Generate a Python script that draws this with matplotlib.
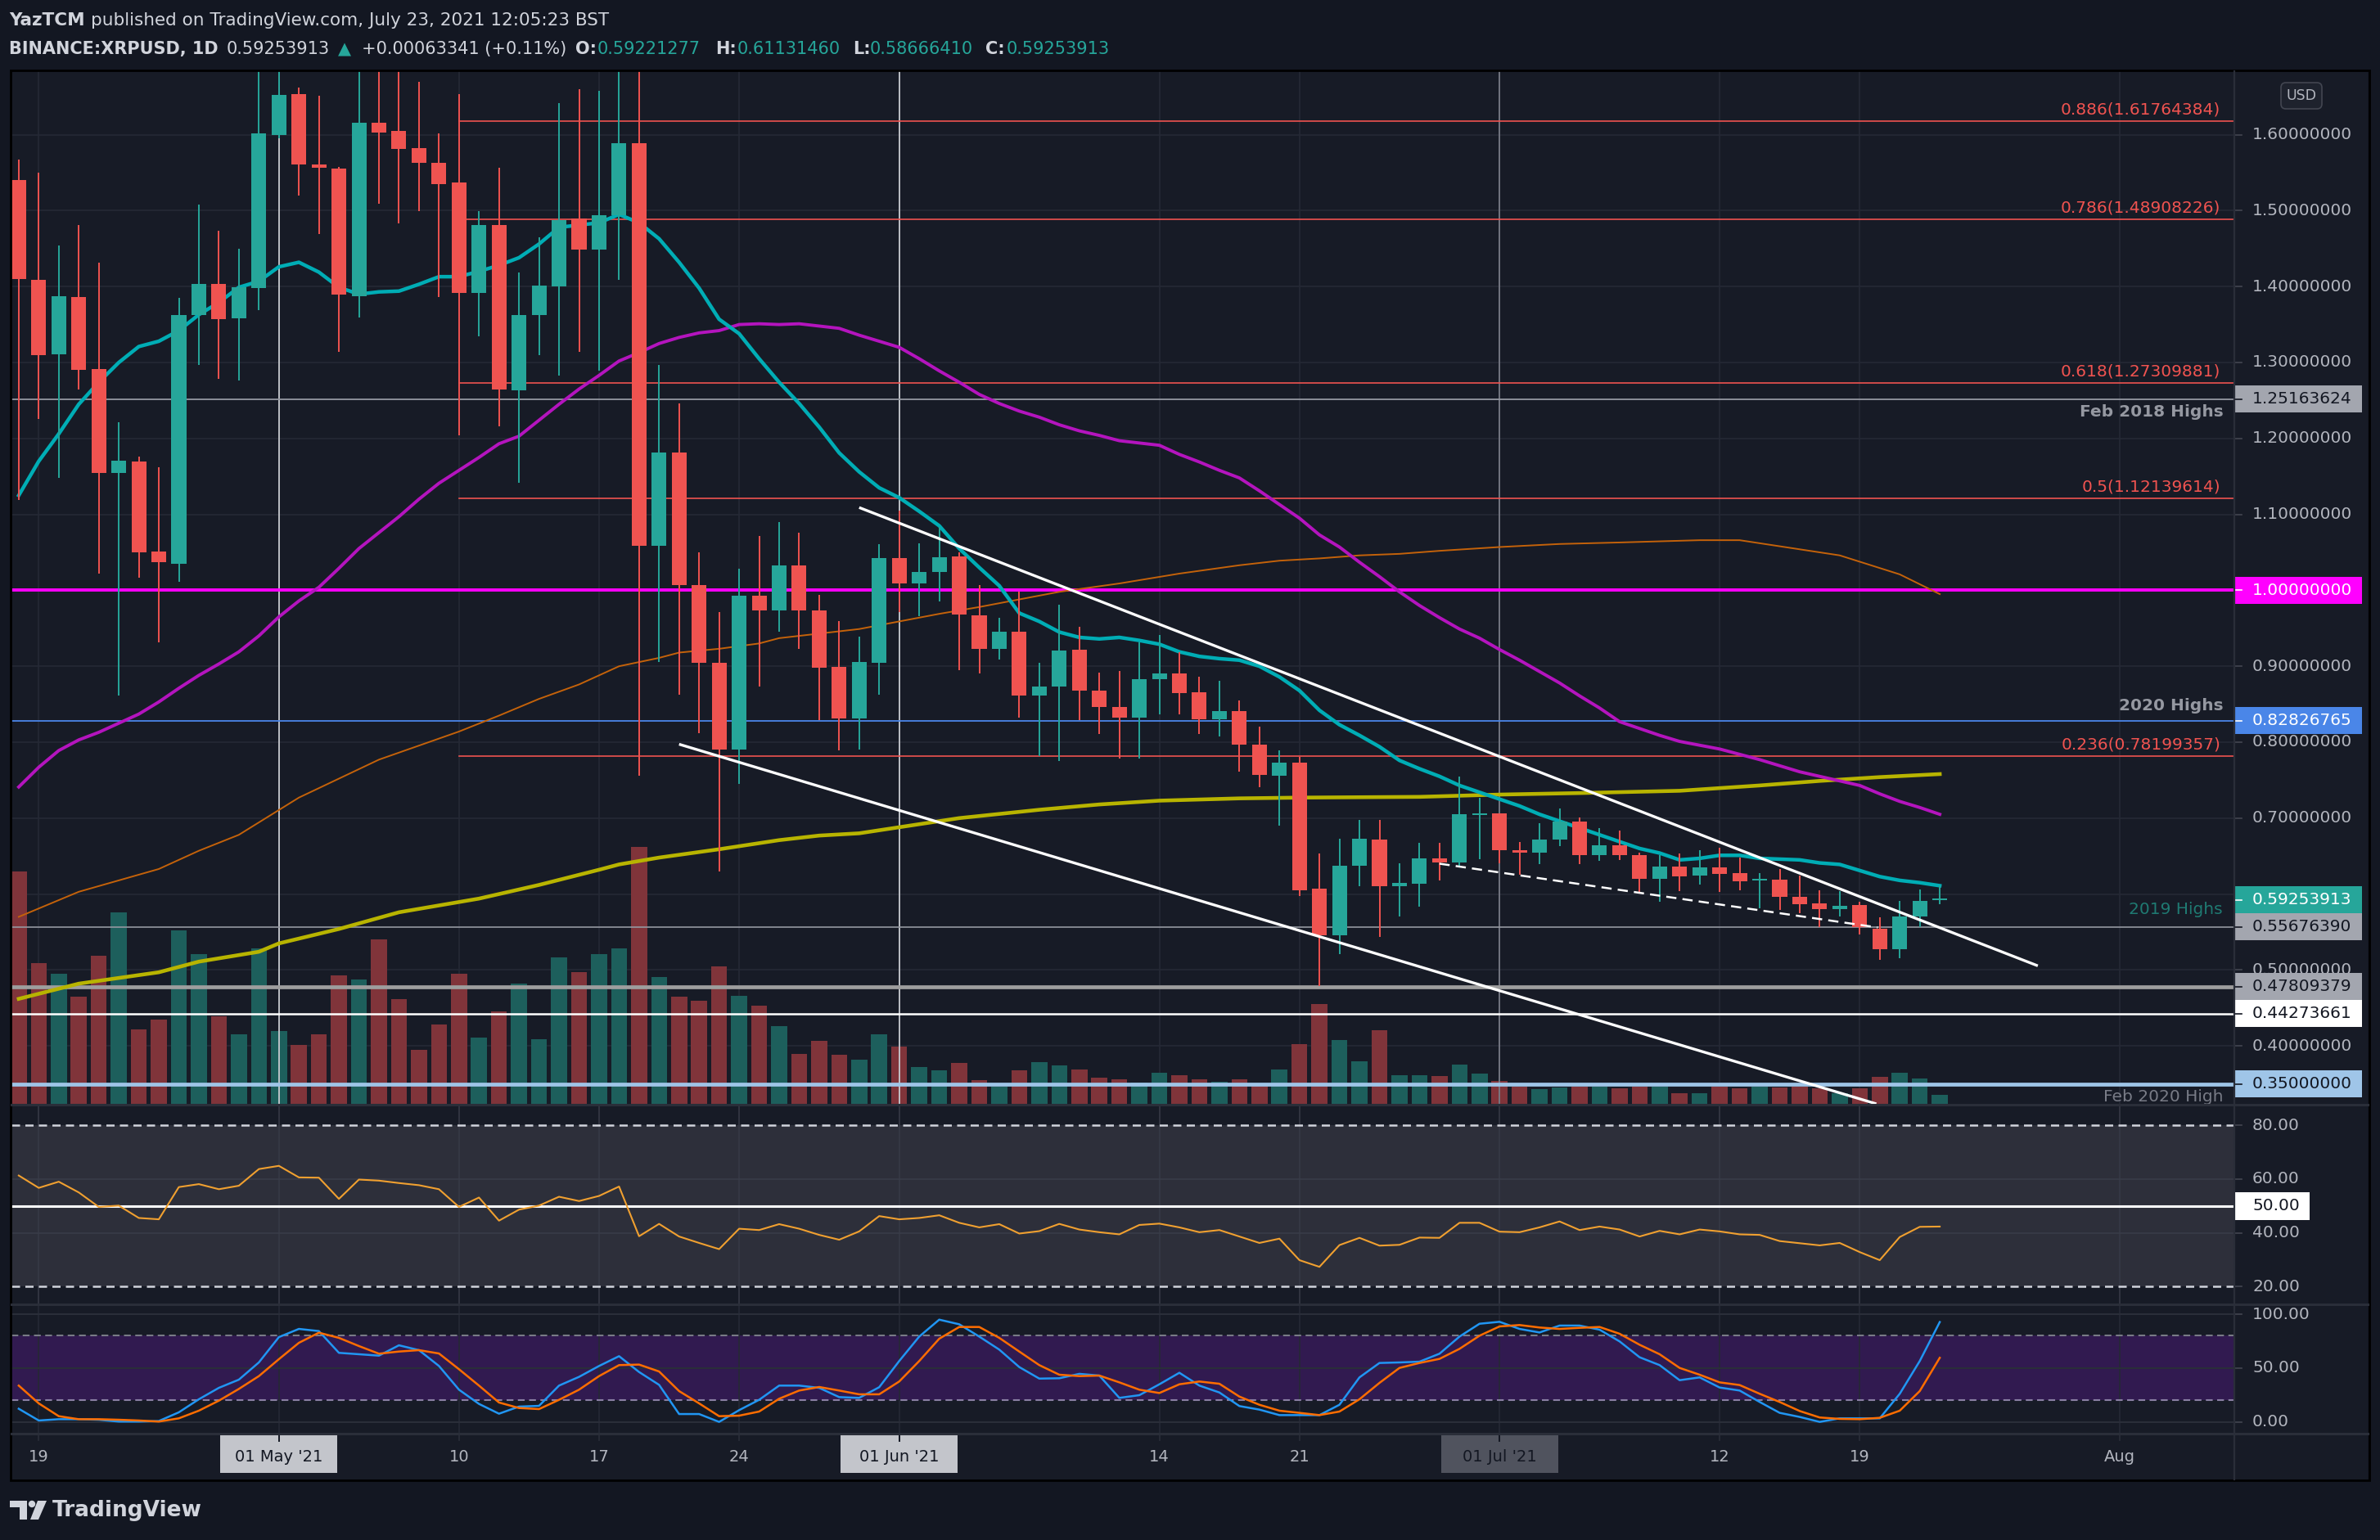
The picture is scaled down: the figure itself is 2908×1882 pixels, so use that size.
import matplotlib
matplotlib.use("Agg")
import matplotlib.pyplot as plt
from matplotlib.patches import Rectangle, Polygon, Circle, FancyBboxPatch
import numpy as np

W, H = 2908, 1882

# daily XRPUSD candles, 18 Apr 2021 .. 23 Jul 2021
opens = [1.540, 1.409, 1.311, 1.386, 1.291, 1.155, 1.170, 1.051, 1.035, 1.362,
         1.403, 1.358, 1.398, 1.600, 1.653, 1.561, 1.555, 1.387, 1.616, 1.605,
         1.582, 1.563, 1.537, 1.392, 1.481, 1.263, 1.363, 1.400, 1.490, 1.449,
         1.494, 1.589, 1.059, 1.182, 1.007, 0.905, 0.790, 0.993, 0.974, 1.033,
         0.974, 0.899, 0.831, 0.905, 1.042, 1.009, 1.024, 1.045, 0.967, 0.923,
         0.945, 0.861, 0.873, 0.922, 0.868, 0.846, 0.832, 0.883, 0.890, 0.866,
         0.830, 0.841, 0.797, 0.756, 0.773, 0.607, 0.546, 0.637, 0.672, 0.610,
         0.614, 0.647, 0.642, 0.704, 0.706, 0.658, 0.654, 0.672, 0.695, 0.651,
         0.664, 0.651, 0.620, 0.636, 0.624, 0.635, 0.628, 0.618, 0.619, 0.596,
         0.588, 0.580, 0.586, 0.554, 0.527, 0.570, 0.5922]
highs = [1.567, 1.550, 1.454, 1.481, 1.432, 1.221, 1.176, 1.162, 1.385, 1.508,
         1.473, 1.450, 1.700, 1.700, 1.662, 1.651, 1.558, 1.700, 1.700, 1.700,
         1.670, 1.602, 1.653, 1.499, 1.556, 1.419, 1.465, 1.642, 1.660, 1.658,
         1.700, 1.700, 1.297, 1.246, 1.050, 0.971, 1.028, 1.072, 1.090, 1.076,
         0.994, 0.960, 0.939, 1.061, 1.105, 1.062, 1.083, 1.050, 1.007, 0.964,
         0.998, 0.904, 0.981, 0.952, 0.892, 0.894, 0.931, 0.941, 0.918, 0.886,
         0.881, 0.855, 0.821, 0.789, 0.781, 0.653, 0.673, 0.698, 0.698, 0.640,
         0.667, 0.667, 0.755, 0.727, 0.706, 0.668, 0.693, 0.713, 0.701, 0.687,
         0.684, 0.654, 0.651, 0.653, 0.658, 0.661, 0.648, 0.628, 0.633, 0.624,
         0.605, 0.604, 0.590, 0.569, 0.591, 0.606, 0.6113]
lows = [1.119, 1.226, 1.148, 1.264, 1.022, 0.861, 1.017, 0.931, 1.011, 1.297,
        1.278, 1.276, 1.369, 1.595, 1.520, 1.469, 1.314, 1.359, 1.509, 1.483,
        1.499, 1.386, 1.204, 1.335, 1.216, 1.142, 1.310, 1.283, 1.314, 1.289,
        1.409, 0.756, 0.906, 0.863, 0.812, 0.630, 0.745, 0.873, 0.945, 0.923,
        0.829, 0.789, 0.790, 0.863, 0.971, 0.966, 0.985, 0.895, 0.890, 0.909,
        0.832, 0.782, 0.775, 0.829, 0.811, 0.778, 0.778, 0.837, 0.837, 0.811,
        0.808, 0.761, 0.741, 0.690, 0.597, 0.479, 0.521, 0.610, 0.543, 0.570,
        0.583, 0.618, 0.637, 0.646, 0.640, 0.625, 0.639, 0.663, 0.639, 0.644,
        0.645, 0.602, 0.590, 0.604, 0.612, 0.603, 0.605, 0.581, 0.579, 0.575,
        0.557, 0.570, 0.547, 0.513, 0.516, 0.557, 0.5867]
closes = [1.410, 1.310, 1.387, 1.290, 1.155, 1.171, 1.050, 1.037, 1.363, 1.403,
          1.357, 1.399, 1.602, 1.652, 1.561, 1.556, 1.389, 1.616, 1.603, 1.581,
          1.563, 1.535, 1.392, 1.481, 1.264, 1.363, 1.401, 1.487, 1.449, 1.494,
          1.589, 1.059, 1.182, 1.007, 0.904, 0.790, 0.993, 0.974, 1.033, 0.973,
          0.898, 0.831, 0.906, 1.042, 1.009, 1.024, 1.044, 0.968, 0.923, 0.946,
          0.861, 0.873, 0.921, 0.868, 0.846, 0.832, 0.883, 0.890, 0.865, 0.830,
          0.841, 0.797, 0.757, 0.773, 0.605, 0.546, 0.637, 0.673, 0.610, 0.615,
          0.647, 0.642, 0.705, 0.705, 0.658, 0.655, 0.672, 0.695, 0.651, 0.664,
          0.651, 0.620, 0.636, 0.623, 0.635, 0.627, 0.617, 0.619, 0.596, 0.587,
          0.580, 0.585, 0.557, 0.527, 0.570, 0.591, 0.5925]
# volume (relative units)
volume = [284, 172, 159, 131, 181, 234, 91, 103, 212, 183,
          107, 85, 190, 89, 72, 85, 157, 152, 201, 128,
          66, 97, 159, 81, 113, 147, 79, 179, 161, 183,
          190, 314, 155, 131, 126, 168, 132, 120, 95, 61,
          77, 60, 54, 85, 70, 45, 41, 50, 29, 21,
          41, 51, 47, 42, 32, 30, 26, 38, 35, 30,
          27, 30, 22, 42, 73, 122, 78, 52, 90, 35,
          35, 34, 48, 37, 28, 21, 18, 20, 21, 21,
          19, 21, 21, 13, 13, 21, 19, 21, 20, 21,
          19, 13, 19, 33, 38, 31, 11]

ma20 = [1.125, 1.170, 1.206, 1.245, 1.274, 1.300, 1.321, 1.328, 1.342, 1.363,
        1.379, 1.399, 1.407, 1.426, 1.432, 1.419, 1.399, 1.390, 1.393, 1.394,
        1.403, 1.413, 1.413, 1.420, 1.428, 1.438, 1.456, 1.478, 1.481, 1.484,
        1.495, 1.484, 1.463, 1.432, 1.398, 1.357, 1.338, 1.305, 1.274, 1.246,
        1.215, 1.181, 1.156, 1.135, 1.122, 1.104, 1.085, 1.055, 1.030, 1.006,
        0.970, 0.959, 0.945, 0.938, 0.936, 0.938, 0.934, 0.929, 0.919, 0.913,
        0.910, 0.908, 0.900, 0.886, 0.868, 0.842, 0.823, 0.809, 0.794, 0.776,
        0.765, 0.755, 0.743, 0.734, 0.725, 0.716, 0.705, 0.696, 0.687, 0.678,
        0.669, 0.660, 0.654, 0.645, 0.647, 0.651, 0.651, 0.647, 0.646, 0.645,
        0.641, 0.639, 0.631, 0.623, 0.618, 0.615, 0.611]
ma50 = [0.741, 0.767, 0.789, 0.803, 0.813, 0.825, 0.837, 0.853, 0.871, 0.888,
        0.903, 0.919, 0.940, 0.965, 0.986, 1.004, 1.029, 1.055, 1.076, 1.097,
        1.120, 1.141, 1.158, 1.175, 1.193, 1.203, 1.224, 1.245, 1.265, 1.283,
        1.302, 1.313, 1.325, 1.333, 1.339, 1.342, 1.350, 1.351, 1.350, 1.351,
        1.348, 1.345, 1.336, 1.328, 1.320, 1.305, 1.289, 1.274, 1.258, 1.246,
        1.236, 1.228, 1.218, 1.210, 1.204, 1.197, 1.194, 1.191, 1.179, 1.169,
        1.158, 1.148, 1.131, 1.113, 1.095, 1.073, 1.057, 1.037, 1.018, 0.998,
        0.980, 0.964, 0.949, 0.937, 0.922, 0.908, 0.893, 0.878, 0.861, 0.845,
        0.827, 0.818, 0.809, 0.801, 0.796, 0.791, 0.784, 0.777, 0.769, 0.761,
        0.755, 0.749, 0.743, 0.732, 0.722, 0.714, 0.705]
ma100_day = [0, 3, 7, 9, 11, 14, 18, 22, 24, 26, 28, 30, 32, 33, 35, 37, 38, 40, 42, 44,
             46, 48, 50, 52, 55, 58, 61, 63, 65, 67, 69, 71, 74, 77, 80, 84, 86, 88,
             91, 94, 96]
ma100_val = [0.570, 0.603, 0.633, 0.657, 0.678, 0.727, 0.777, 0.814, 0.835, 0.857,
             0.876, 0.900, 0.911, 0.918, 0.923, 0.930, 0.937, 0.943, 0.949, 0.959,
             0.969, 0.978, 0.988, 0.998, 1.009, 1.022, 1.033, 1.039, 1.042, 1.046,
             1.048, 1.052, 1.057, 1.061, 1.063, 1.066, 1.066, 1.058, 1.046, 1.021,
             0.995]
ma200_day = [0, 3, 7, 9, 12, 13, 16, 19, 23, 26, 29, 30, 32, 35, 38, 40, 42, 44, 47,
             51, 54, 57, 61, 64, 70, 74, 78, 83, 87, 90, 93, 96]
ma200_val = [0.462, 0.482, 0.497, 0.511, 0.524, 0.535, 0.554, 0.576, 0.594, 0.612,
             0.632, 0.639, 0.648, 0.659, 0.671, 0.677, 0.680, 0.688, 0.700, 0.711,
             0.718, 0.723, 0.726, 0.727, 0.728, 0.731, 0.733, 0.736, 0.743, 0.749,
             0.754, 0.758]

rsi = [61.3, 56.7, 59.0, 55.0, 49.6, 50.1, 45.5, 45.0, 57.0, 58.1,
       56.2, 57.5, 63.7, 64.9, 60.6, 60.5, 52.6, 59.8, 59.4, 58.5,
       57.7, 56.2, 49.6, 53.1, 44.5, 48.6, 50.1, 53.4, 51.8, 53.7,
       57.2, 38.7, 43.3, 38.6, 36.2, 33.9, 41.5, 41.0, 43.2, 41.5,
       39.2, 37.4, 40.5, 46.2, 45.0, 45.5, 46.5, 43.7, 42.0, 43.2,
       39.7, 40.6, 43.3, 41.2, 40.2, 39.4, 42.9, 43.4, 42.0, 40.2,
       41.0, 38.6, 36.2, 37.8, 29.8, 27.3, 35.4, 38.1, 35.2, 35.5,
       38.2, 38.1, 43.7, 43.7, 40.4, 40.2, 42.0, 44.2, 41.0, 42.3,
       41.2, 38.6, 40.7, 39.4, 41.2, 40.5, 39.4, 39.2, 36.9, 36.1,
       35.3, 36.2, 32.8, 29.8, 38.4, 42.2, 42.3]
stoch_k = [12.2, 1.3, 2.5, 2.5, 2.0, 0.3, 0.3, 0.8, 8.9, 21.0,
           31.6, 39.2, 55.2, 78.7, 86.3, 84.3, 64.1, 62.8, 61.5, 71.1,
           66.6, 51.9, 29.9, 16.7, 7.6, 14.2, 14.9, 33.7, 41.8, 51.9,
           61.0, 46.3, 34.4, 7.3, 7.3, 0.0, 10.9, 20.5, 33.7, 33.7,
           31.6, 23.0, 22.3, 32.2, 56.5, 79.2, 94.9, 90.6, 79.2, 67.1,
           50.9, 40.2, 40.5, 44.6, 43.0, 22.3, 24.8, 34.9, 45.6, 33.7,
           27.3, 14.7, 11.4, 6.3, 6.3, 6.3, 15.9, 41.3, 54.7, 55.2,
           55.9, 63.3, 79.2, 91.1, 92.9, 86.3, 83.0, 89.4, 89.4, 85.6,
           74.7, 60.0, 52.7, 38.7, 41.3, 31.9, 29.1, 18.5, 8.4, 4.6,
           0.0, 3.3, 3.3, 3.3, 26.1, 56.5, 92.7]
stoch_d = [33.7, 17.2, 5.3, 2.5, 2.5, 2.0, 1.3, 0.3, 3.3, 10.4,
           19.7, 30.6, 42.5, 58.2, 73.4, 82.8, 78.0, 70.4, 63.3, 65.3,
           66.6, 63.5, 48.9, 33.7, 18.0, 12.9, 11.9, 20.5, 29.9, 42.5,
           52.7, 53.2, 46.8, 28.6, 17.2, 5.3, 5.8, 9.6, 21.5, 29.1,
           32.4, 29.1, 25.6, 25.6, 37.5, 56.5, 77.2, 88.1, 88.1, 78.0,
           65.3, 52.7, 43.8, 42.5, 43.0, 36.7, 29.9, 26.8, 34.9, 37.5,
           35.4, 23.5, 15.9, 10.4, 8.4, 6.3, 9.6, 21.0, 36.2, 50.1,
           54.7, 58.5, 67.8, 80.0, 88.6, 89.9, 87.6, 86.3, 87.3, 88.1,
           81.8, 71.6, 62.8, 50.1, 43.8, 36.7, 34.2, 26.1, 18.5, 10.1,
           4.1, 2.8, 2.5, 3.8, 10.4, 28.6, 59.5]

# fibonacci retracement drawn from 10 May
fib_ratios = ["0.886", "0.786", "0.618", "0.5", "0.236"]
fib_prices = [1.61764384, 1.48908226, 1.27309881, 1.12139614, 0.78199357]
fib_start = 22

# drawn trend lines (day index, price)
upper_x, upper_y = [42.0, 100.9], [1.109, 0.5055]
lower_x, lower_y = [33.0, 92.83], [0.7973, 0.3237]
support_x, support_y = [71.0, 92.9], [0.640, 0.556]

last_price = 0.59253913

# date axis
tick_days = [1, 13, 22, 29, 36, 44, 57, 64, 74, 85, 92, 105]
tick_labels = ["19", "01 May '21", "10", "17", "24", "01 Jun '21", "14", "21",
               "01 Jul '21", "12", "19", "Aug"]
marker_days = [13, 44, 74]

plt.rcParams['font.family'] = ['DejaVu Sans']

BG = '#131722'
PANE = '#171b26'
GRID = '#252935'
TXT = '#b2b5be'
UP = '#26a69a'
DN = '#ef5350'

# chart geometry in pixels
X0, X1 = 14, 2730
def px2idx(px):
    return (px - 22.9) / 24.45
def px2price(py):
    return 1.6 - (py - 164.6) / 928.0

XL = (px2idx(X0), px2idx(X1))
PY = (px2price(1349), px2price(87))
n = len(closes)
x = np.arange(n)

fig = plt.figure(figsize=(W / 100, H / 100), dpi=100, facecolor=BG)


def px_axes(x0, y0, x1, y1):
    return fig.add_axes([x0 / W, 1 - y1 / H, (x1 - x0) / W, (y1 - y0) / H])


def style(ax, face=PANE):
    ax.set_facecolor(face)
    ax.set_xticks([])
    ax.set_yticks([])
    for s in ax.spines.values():
        s.set_visible(False)


# ---------------- price pane ----------------
ax_v = px_axes(X0, 87, X1, 1349)
style(ax_v)
ax_p = px_axes(X0, 87, X1, 1349)
style(ax_p)
ax_p.patch.set_alpha(0)

for d in tick_days:
    ax_v.axvline(d, color=GRID, lw=1.2, zorder=0)
for p in np.arange(0.4, 1.65, 0.1):
    ax_v.plot(XL, [p, p], color=GRID, lw=1.2, transform=ax_p.transData, zorder=0)

vol_col = ['#1d5f5c' if c >= o else '#80343a' for o, c in zip(opens, closes)]
ax_v.bar(x, volume, width=0.8, color=vol_col, zorder=1)
ax_v.set_xlim(XL)
ax_v.set_ylim(0, 1262)

for d in marker_days[:2]:
    ax_p.axvline(d, color='#c8cad0', lw=1.3, zorder=1)
ax_p.axvline(marker_days[2], color='#787b86', lw=1.3, zorder=1)

# horizontal levels
ax_p.axhline(1.25163624, color='#9598a1', lw=1.3, zorder=2)
ax_p.axhline(1.0, color='#ff00ff', lw=2.8, zorder=2)
ax_p.axhline(0.82826765, color='#4a86e8', lw=1.3, zorder=2)
ax_p.axhline(0.55676390, color='#9598a1', lw=1.2, zorder=2)
ax_p.axhline(0.47809379, color='#9e9e9e', lw=3.4, zorder=2)
ax_p.axhline(0.44273661, color='#ffffff', lw=1.8, zorder=2)
ax_p.axhline(0.35, color='#9fc5e8', lw=3.4, zorder=2)
for fp in fib_prices:
    ax_p.plot([fib_start, XL[1]], [fp, fp], color=DN, lw=1.2, zorder=2)

# moving averages
ax_p.plot(ma100_day, ma100_val, color='#c4620a', lw=1.4, zorder=2.4)
ax_p.plot(ma200_day, ma200_val, color='#b8b400', lw=3.3, zorder=2.4)
ax_p.plot(x, ma50, color='#b414be', lw=2.8, zorder=2.5)
ax_p.plot(x, ma20, color='#00adb5', lw=3.2, zorder=2.6)

# candles
o = np.array(opens); c = np.array(closes)
col = np.where(c >= o, UP, DN)
ax_p.vlines(x, lows, highs, colors=col, lw=1.4, zorder=3)
body_lo = np.minimum(o, c)
body_h = np.maximum(np.abs(c - o), 0.0025)
ax_p.bar(x, body_h, width=0.74, bottom=body_lo, color=col, zorder=3.1)

# trend lines
ax_p.plot(upper_x, upper_y, color='white', lw=2.4, zorder=4, solid_capstyle='butt')
ax_p.plot(lower_x, lower_y, color='white', lw=2.4, zorder=4, solid_capstyle='butt')
ax_p.plot(support_x, support_y, color='white', lw=1.8, ls=(0, (5, 3)), zorder=4)

# level captions
def cap(price, dy_px, text, color, weight='normal', right_px=2713):
    ax_p.text(px2idx(right_px), price + dy_px / 928.0, text, color=color,
              fontsize=14.5, fontweight=weight, ha='right', va='center', zorder=5)

for r, fp in zip(fib_ratios, fib_prices):
    cap(fp, 14, f"{r}({fp:.8f})", '#f05350')
cap(1.25163624, -16, "Feb 2018 Highs", '#9598a1', 'bold', 2717)
cap(0.82826765, 18, "2020 Highs", '#9598a1', 'bold', 2717)
cap(0.55676390, 21, "2019 Highs", '#1f7a72', 'normal', 2716)
cap(0.35, -16, "Feb 2020 High", '#787b86', 'normal', 2716)

ax_p.set_xlim(XL)
ax_p.set_ylim(PY)

# ---------------- RSI pane ----------------
RY = (50 - (1594 - 1473.67) / 3.283, 50 + (1473.67 - 1350) / 3.283)
ax_r = px_axes(X0, 1350, X1, 1594)
style(ax_r)
ax_r.axhspan(20, 80, color='#2d2f3a', lw=0, zorder=0)
for d in tick_days:
    ax_r.axvline(d, color='#363945', lw=1.2, zorder=0.5)
for g in (40, 60):
    ax_r.axhline(g, color='#393c48', lw=1.2, zorder=0.5)
ax_r.axhline(80, color='#d1d4dc', lw=1.8, ls=(0, (4, 2.6)), zorder=1)
ax_r.axhline(20, color='#d1d4dc', lw=1.8, ls=(0, (4, 2.6)), zorder=1)
ax_r.axhline(50, color='white', lw=2.2, zorder=1)
ax_r.plot(x, rsi, color='#f0a030', lw=1.5, zorder=2)
ax_r.set_xlim(XL)
ax_r.set_ylim(RY)

# ---------------- Stoch RSI pane ----------------
SY = (-(1752 - 1737.67) / 1.3167, (1737.67 - 1594) / 1.3167)
ax_s = px_axes(X0, 1594, X1, 1752)
style(ax_s)
ax_s.axhspan(20, 80, color='#311a50', lw=0, zorder=0)
for d in tick_days:
    ax_s.axvline(d, color=GRID, lw=1.2, zorder=0.5)
for g in (0, 50, 100):
    ax_s.axhline(g, color='#2a2e39', lw=1.5, zorder=0.5)
ax_s.axhline(80, color='#787b86', lw=1.5, ls=(0, (4, 2.6)), zorder=1)
ax_s.axhline(20, color='#8a7fa3', lw=1.5, ls=(0, (4, 2.6)), zorder=1)
ax_s.plot(x, stoch_k, color='#2196f3', lw=1.8, zorder=2)
ax_s.plot(x, stoch_d, color='#ff6d00', lw=1.8, zorder=2)
ax_s.set_xlim(XL)
ax_s.set_ylim(SY)

# ---------------- time axis ----------------
ax_t = px_axes(X0, 1752, X1, 1808)
style(ax_t)
ax_t.set_xlim(XL)
ax_t.set_ylim(56, 0)
box_w = 143 / 24.45
for d, lab in zip(tick_days, tick_labels):
    if "'" in lab:
        fc = '#50535e' if 'Jul' in lab else '#c3c5cb'
        ax_t.add_patch(Rectangle((d - box_w / 2, 0), box_w, 48, color=fc, lw=0))
        ax_t.plot([d, d], [0, 9], color='#131722', lw=1.4)
        ax_t.text(d, 28, lab, color='#131722', fontsize=14, ha='center', va='center')
    else:
        ax_t.plot([d, d], [0, 8], color='#2a2e39', lw=1.2)
        ax_t.text(d, 28, lab, color=TXT, fontsize=14, ha='center', va='center')

# ---------------- right scales ----------------
ax_pr = px_axes(X1, 87, 2893, 1349)
style(ax_pr)
ax_pr.set_xlim(0, 163)
ax_pr.set_ylim(PY)

box_levels = [1.25163624, 1.0, 0.82826765, last_price, 0.55676390,
              0.47809379, 0.44273661, 0.35]
box_faces = ['#a3a6af', '#ff00ff', '#4a86e8', UP, '#a3a6af', '#a3a6af', '#ffffff', '#9fc5e8']
box_texts = ['#131722', 'white', 'white', 'white', '#131722', '#131722', '#131722', '#131722']

for p in np.arange(0.4, 1.65, 0.1):
    ax_pr.plot([0, 9], [p, p], color='#434651', lw=1.2)
    # labels fully covered by a level box are not shown (as on the chart)
    if min(abs(p - lv) for lv in box_levels) * 928 < 12:
        continue
    ax_pr.text(22, p, f"{p:.8f}", color=TXT, fontsize=14.5, va='center', ha='left')

hh = 16.5 / 928.0
for lv, fc, tc in zip(box_levels, box_faces, box_texts):
    ax_pr.add_patch(Rectangle((0, lv - hh), 156, 2 * hh, color=fc, lw=0, zorder=3))
    ax_pr.plot([0, 9], [lv, lv], color=tc, lw=1.2, zorder=3.5)
    ax_pr.text(22, lv, f"{lv:.8f}", color=tc, fontsize=14.5, va='center', ha='left', zorder=4)

ax_rr = px_axes(X1, 1350, 2893, 1594)
style(ax_rr)
ax_rr.set_xlim(0, 163)
ax_rr.set_ylim(RY)
for v in (80, 60, 40, 20):
    ax_rr.plot([0, 9], [v, v], color='#434651', lw=1.2)
    ax_rr.text(22, v, f"{v:.2f}", color=TXT, fontsize=14.5, va='center', ha='left')
ax_rr.add_patch(Rectangle((0, 50 - 17 / 3.283), 92, 34 / 3.283, color='white', lw=0, zorder=3))
ax_rr.text(22, 50, "50.00", color='#131722', fontsize=14.5, va='center', ha='left', zorder=4)

ax_sr = px_axes(X1, 1594, 2893, 1752)
style(ax_sr)
ax_sr.set_xlim(0, 163)
ax_sr.set_ylim(SY)
for v in (100, 50, 0):
    ax_sr.plot([0, 9], [v, v], color='#434651', lw=1.2)
    ax_sr.text(22, v, f"{v:.2f}", color=TXT, fontsize=14.5, va='center', ha='left')

ax_tr = px_axes(X1, 1752, 2893, 1808)
style(ax_tr)

# ---------------- overlay: frame, header, footer ----------------
ax_o = fig.add_axes([0, 0, 1, 1], zorder=10)
ax_o.set_xlim(0, W)
ax_o.set_ylim(H, 0)
ax_o.axis('off')
ax_o.patch.set_alpha(0)

for yy in (1350, 1594, 1752):
    ax_o.plot([X0, 2893], [yy, yy], color='#2a2e39', lw=2.2)
ax_o.plot([X1, X1], [87, 1808], color='#2a2e39', lw=1.6)
ax_o.add_patch(Rectangle((13, 86), 2882, 1723, fill=False, ec='black', lw=2))

ax_o.add_patch(FancyBboxPatch((2787, 101), 50, 32, boxstyle='round,pad=0,rounding_size=6',
                              fc='#1e222d', ec='#434651', lw=1.2))
ax_o.text(2812, 117, "USD", color=TXT, fontsize=12.5, ha='center', va='center')

HC = '#d1d4dc'
ax_o.text(11, 25, "YazTCM", color=HC, fontsize=15.5, fontweight='bold', va='center')
ax_o.text(111, 25, "published on TradingView.com, July 23, 2021 12:05:23 BST",
          color=HC, fontsize=15.5, va='center')
header2 = [(11, "BINANCE:XRPUSD, 1D", HC, 'bold'),
           (277, "0.59253913", HC, 'normal'),
           (413, "\u25b2", UP, 'normal'),
           (442, "+0.00063341 (+0.11%)", HC, 'normal'),
           (703, "O:", HC, 'bold'), (730, "0.59221277", UP, 'normal'),
           (874, "H:", HC, 'bold'), (901, "0.61131460", UP, 'normal'),
           (1042, "L:", HC, 'bold'), (1063, "0.58666410", UP, 'normal'),
           (1204, "C:", HC, 'bold'), (1230, "0.59253913", UP, 'normal')]
for hx, txt, hc, wt in header2:
    ax_o.text(hx, 60, txt, color=hc, fontsize=15, fontweight=wt, va='center')

# TradingView logo
ax_o.add_patch(Polygon([(12, 1834), (33, 1834), (33, 1857), (24, 1857), (24, 1842), (12, 1842)],
                       closed=True, color=HC, lw=0))
ax_o.add_patch(Circle((39, 1838), 4.2, color=HC, lw=0))
ax_o.add_patch(Polygon([(46, 1834), (57, 1834), (47, 1857), (37, 1857)], closed=True, color=HC, lw=0))
ax_o.text(64, 1846, "TradingView", color=HC, fontsize=19, fontweight='bold', va='center')

fig.savefig("out.png", dpi=100, facecolor=BG)
